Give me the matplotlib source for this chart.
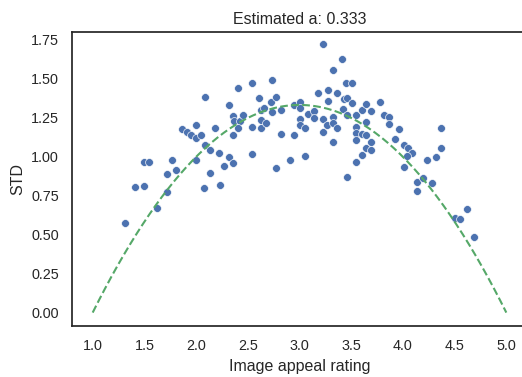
import numpy as np
import matplotlib
matplotlib.use("Agg")
import matplotlib.pyplot as plt
import seaborn as sns

# valores
rating = [1.31, 1.41, 1.50, 1.50, 1.54, 1.62, 1.72, 1.72, 1.77, 1.81,
          1.86, 1.91, 1.95, 2.00, 2.00, 2.05, 2.00, 2.08, 2.09, 2.09,
          2.13, 2.13, 2.18, 2.22, 2.23, 2.27, 2.32, 2.32, 2.36, 2.37,
          2.36, 2.36, 2.41, 2.42, 2.41, 2.45, 2.54, 2.54, 2.54, 2.61,
          2.63, 2.63, 2.63, 2.66, 2.68, 2.72, 2.73, 2.73, 2.77, 2.77,
          2.82, 2.82, 2.91, 2.95, 2.95, 3.00, 3.00, 3.00, 3.00, 3.05,
          3.05, 3.08, 3.14, 3.14, 3.18, 3.23, 3.23, 3.23, 3.27, 3.28,
          3.28, 3.32, 3.32, 3.32, 3.32, 3.36, 3.36, 3.41, 3.42, 3.43,
          3.45, 3.46, 3.46, 3.46, 3.51, 3.51, 3.55, 3.55, 3.55, 3.55,
          3.55, 3.60, 3.60, 3.60, 3.64, 3.64, 3.64, 3.64, 3.69, 3.69,
          3.69, 3.78, 3.82, 3.87, 3.87, 3.92, 3.96, 4.01, 4.01, 4.05,
          4.09, 4.04, 4.14, 4.14, 4.19, 4.23, 4.28, 4.32, 4.37, 4.37,
          4.50, 4.55, 4.62, 4.69]
std = [0.575, 0.803, 0.809, 0.969, 0.969, 0.673, 0.890, 0.771, 0.980, 0.914,
       1.176, 1.158, 1.139, 1.201, 1.120, 1.139, 0.981, 0.799, 1.382, 1.073,
       1.042, 0.895, 1.186, 1.026, 0.818, 0.941, 1.001, 1.329, 1.261, 1.227,
       1.139, 0.958, 1.440, 1.229, 1.186, 1.269, 1.476, 1.192, 1.017, 1.378,
       1.297, 1.237, 1.184, 1.312, 1.216, 1.352, 1.491, 1.286, 1.382, 0.928,
       1.301, 1.144, 0.978, 1.333, 1.139, 1.352, 1.312, 1.242, 1.201, 1.005,
       1.182, 1.275, 1.293, 1.250, 1.408, 1.723, 1.240, 1.158, 1.205, 1.425,
       1.357, 1.559, 1.254, 1.217, 1.093, 1.406, 1.182, 1.629, 1.305, 1.369,
       1.476, 1.376, 1.267, 0.868, 1.476, 1.344, 1.267, 1.190, 1.150, 1.107,
       0.969, 1.301, 1.146, 1.013, 1.335, 1.222, 1.141, 1.053, 1.293, 1.093,
       1.045, 1.350, 1.265, 1.252, 1.210, 1.116, 1.180, 1.075, 0.932, 1.054,
       1.024, 1.005, 0.839, 0.780, 0.863, 0.978, 0.834, 1.001, 1.182, 1.053,
       0.604, 0.603, 0.662, 0.483]

a = 0.333
xmin, xmax = 1.0, 5.0

sns.set_theme(style="white")
plt.rcParams['font.family'] = ['Liberation Sans', 'DejaVu Sans']

fig = plt.figure(figsize=(5.22, 3.77), dpi=100)
ax = fig.add_axes([72 / 522, 51 / 377, 455 / 522, 294 / 377])

sns.scatterplot(x=rating, y=std, ax=ax, color="#4C72B0", s=32)

# curva del modelo a*(x-1)*(5-x)
xs = np.linspace(xmin, xmax, 200)
ax.plot(xs, a * (xs - xmin) * (xmax - xs), "--", color="#55A868", lw=1.5)

ax.set_xlim(0.8, 5.2)
ax.set_ylim(-0.086, 1.80)
ax.set_xticks(np.arange(1.0, 5.01, 0.5))
ax.set_yticks(np.arange(0, 1.76, 0.25))
ax.tick_params(labelsize=10.4)
ax.set_xlabel("Image appeal rating", fontsize=11.5)
ax.set_ylabel("STD", fontsize=11.5)
ax.set_title("Estimated a: %.3f" % a, fontsize=11.5, pad=6)

fig.savefig("out.png", dpi=100)
